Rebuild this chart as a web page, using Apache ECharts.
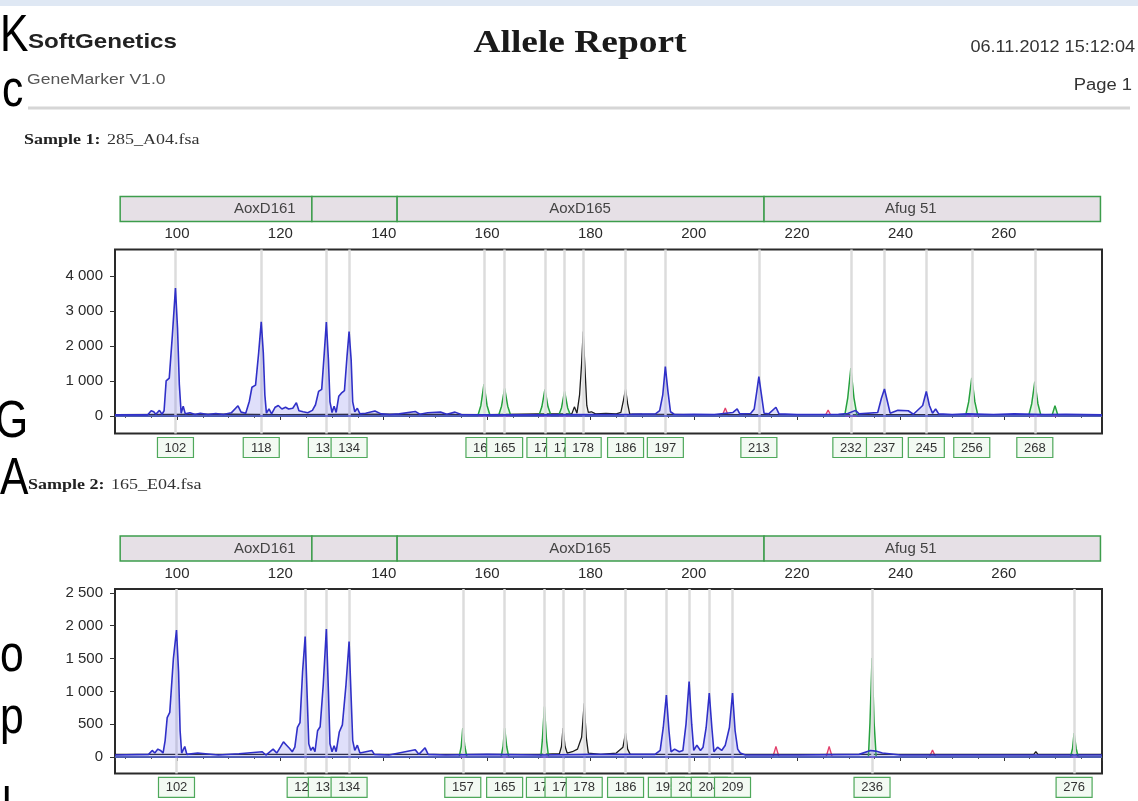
<!DOCTYPE html>
<html><head><meta charset="utf-8">
<script src="https://cdn.jsdelivr.net/npm/echarts@6/dist/echarts.min.js"></script>
<style>html,body{margin:0;padding:0;background:#fff}#c{width:1138px;height:801px}</style>
</head><body><div id="c"></div>
<script>
// ---------- DATA ----------
const xTickLabels = [100, 120, 140, 160, 180, 200, 220, 240, 260];
const s1YTicks = [0, 1000, 2000, 3000, 4000];
const s2YTicks = [0, 500, 1000, 1500, 2000, 2500];
const markerStart = [89.0, 126.1, 142.6, 213.6];
const markerEnd = [126.1, 142.6, 213.6, 278.7];
const markerNames = ['AoxD161', '', 'AoxD165', 'Afug 51'];
const markerLabelAt = [117.0, 134.0, 178.0, 242.0];

// Sample 1
const s1AllelePos = [99.7, 116.3, 128.9, 133.3, 159.4, 163.4, 171.2, 175.0, 178.6, 186.8, 194.5, 212.6, 230.4, 236.9, 245.0, 253.8, 266.0];
const s1AlleleNames = ['102', '118', '131', '134', '161', '165', '171', '174', '178', '186', '197', '213', '232', '237', '245', '256', '268'];
const s1Blue = [[88,30],[94.3,30],[95.0,150],[95.5,120],[95.9,50],[96.6,160],[97.1,50],[97.5,150],[97.9,1000],[98.5,1080],[99.1,2300],[99.7,3650],[100.1,2500],[100.45,900],[100.8,80],[101.2,280],[101.6,60],[102.5,90],[103.5,40],[104.5,80],[106.0,40],[107.5,70],[109.0,40],[110.5,90],[111.8,290],[112.4,110],[113.3,80],[114.0,420],[114.5,820],[115.2,880],[115.8,1800],[116.3,2690],[116.7,1800],[117.0,600],[117.3,80],[117.8,200],[118.3,60],[119.0,250],[119.6,300],[120.3,200],[121.0,250],[121.6,200],[122.4,220],[123.1,380],[123.6,150],[124.4,120],[125.3,90],[126.2,160],[126.8,320],[127.4,700],[128.0,760],[128.5,1800],[128.9,2680],[129.3,1600],[129.6,400],[130.0,100],[130.4,280],[130.8,100],[131.3,560],[131.8,650],[132.4,720],[132.9,1700],[133.3,2410],[133.7,1600],[134.0,400],[134.4,120],[134.9,220],[135.4,60],[136.5,80],[138.3,140],[139.5,60],[141.2,40],[143.0,60],[146.1,130],[147.0,50],[148.5,90],[151.0,110],[152.2,50],[153.8,110],[155.0,40],[160,30],[170,30],[180,40],[188,50],[192.6,60],[193.4,150],[194.0,600],[194.5,1410],[195.0,700],[195.5,120],[196.2,50],[198,40],[200,50],[204,40],[207.6,100],[208.4,200],[208.9,60],[211.0,70],[211.7,200],[212.2,700],[212.6,1125],[213.1,600],[213.6,80],[214.5,60],[215.9,250],[216.5,60],[220,40],[228,50],[229.8,70],[231.3,160],[232.0,60],[235.6,100],[236.3,500],[236.9,770],[237.5,400],[238.0,80],[239.5,160],[241.5,150],[242.5,50],[244.3,300],[245.0,700],[245.6,300],[246.2,80],[246.8,200],[247.4,60],[250,40],[253,60],[258,40],[262,60],[268,40],[272,50],[279,30]];
const s1Green = [[88,0],[158.2,0],[158.8,300],[159.4,910],[160.0,300],[160.6,0],[162.2,0],[162.8,280],[163.4,790],[164.0,280],[164.6,0],[170.0,0],[170.6,260],[171.2,760],[171.8,260],[172.4,0],[173.8,0],[174.4,230],[175.0,700],[175.6,230],[176.2,0],[229.2,0],[229.8,520],[230.4,1370],[231.0,520],[231.6,0],[252.6,0],[253.2,400],[253.8,1085],[254.4,400],[255.0,0],[264.8,0],[265.4,350],[266.0,980],[266.6,350],[267.2,0],[269.3,0],[269.9,295],[270.5,0],[279,0]];
const s1Black = [[88,40],[110,50],[120,40],[140,50],[160,40],[170,60],[176.4,60],[176.9,260],[177.4,80],[177.9,600],[178.3,1500],[178.6,2410],[179.0,1200],[179.3,300],[179.6,100],[180.2,120],[181,60],[183,70],[185,60],[185.9,100],[186.4,450],[186.8,760],[187.2,350],[187.6,60],[190,50],[200,40],[220,40],[240,40],[279,40]];
const s1Red = [[88,0],[205.5,0],[206.1,230],[206.7,0],[225.4,0],[226.0,170],[226.6,0],[279,0]];

// Sample 2
const s2AllelePos = [99.9, 124.8, 128.9, 133.3, 155.3, 163.4, 171.1, 174.7, 178.8, 186.8, 194.7, 199.1, 203.0, 207.5, 234.5, 273.6];
const s2AlleleNames = ['102', '126', '131', '134', '157', '165', '171', '174', '178', '186', '195', '200', '204', '209', '236', '276'];
const s2Blue = [[88,30],[94.5,40],[95.2,100],[95.7,60],[96.3,120],[96.8,100],[97.3,60],[97.7,250],[98.1,600],[98.6,680],[99.3,1500],[99.9,1935],[100.3,1300],[100.6,400],[100.9,60],[101.5,160],[101.9,40],[104,60],[108,30],[112,50],[116.5,80],[117.2,30],[118.6,120],[119.3,60],[120.0,150],[120.6,230],[121.2,180],[121.8,130],[122.3,80],[122.8,150],[123.3,450],[123.8,525],[124.3,1300],[124.8,1835],[125.2,900],[125.5,200],[125.9,100],[126.3,150],[126.7,80],[127.2,400],[127.7,460],[128.3,1100],[128.9,1950],[129.3,1000],[129.6,200],[130.0,80],[130.4,170],[130.8,80],[131.4,380],[132.0,490],[132.7,1100],[133.3,1760],[133.7,900],[134.0,250],[134.4,100],[134.9,180],[135.4,60],[137.7,100],[138.2,40],[141,30],[146.1,110],[146.8,40],[148.0,140],[148.6,40],[152,30],[160,40],[170,30],[180,40],[188,40],[192.5,40],[193.5,100],[194.1,450],[194.7,945],[195.2,400],[195.6,80],[196.3,120],[197.2,80],[197.9,100],[198.5,500],[199.1,1150],[199.6,500],[200.0,100],[200.6,180],[201.3,100],[201.8,150],[202.4,450],[203.0,975],[203.5,450],[203.9,80],[204.6,150],[205.4,100],[206.1,180],[206.9,450],[207.5,975],[208.0,400],[208.5,120],[209.0,60],[210,30],[220,30],[232,40],[234.2,100],[235.2,90],[236.5,60],[240,30],[250,30],[260,30],[279,30]];
const s2Green = [[88,0],[154.6,0],[155.0,160],[155.3,440],[155.7,160],[156.1,0],[162.7,0],[163.1,160],[163.4,440],[163.8,160],[164.2,0],[170.4,0],[170.7,260],[171.1,770],[171.5,260],[171.9,0],[233.8,0],[234.1,520],[234.5,1510],[234.9,520],[235.3,0],[272.9,0],[273.3,130],[273.6,365],[274.0,130],[274.4,0],[279,0]];
const s2Black = [[88,40],[120,40],[150,40],[170,40],[174.0,50],[174.4,160],[174.7,440],[175.1,160],[175.5,60],[176.5,80],[177.5,120],[178.3,300],[178.8,820],[179.2,300],[179.6,60],[182,40],[185,60],[186.3,150],[186.8,365],[187.2,120],[187.7,40],[200,40],[240,40],[265.8,40],[266.2,80],[266.6,40],[279,40]];
const s2Red = [[88,0],[215.3,0],[215.9,160],[216.5,0],[225.6,0],[226.2,160],[226.8,0],[245.6,0],[246.2,107],[246.8,0],[279,0]];

// ---------- CHART ----------
const FONT = '"Liberation Sans", Arial, sans-serif';
const chart = echarts.init(document.getElementById('c'), null, { renderer: 'canvas' });

const samples = [
  { top: 249.5, height: 184, min: -500, max: 4750, ticks: s1YTicks,
    pos: s1AllelePos, names: s1AlleleNames, blue: s1Blue, green: s1Green, black: s1Black, red: s1Red },
  { top: 589, height: 184.4, min: -250, max: 2560, ticks: s2YTicks,
    pos: s2AllelePos, names: s2AlleleNames, blue: s2Blue, green: s2Green, black: s2Black, red: s2Red }
];

function fmtThousands(v) { return String(v).replace(/\B(?=(\d{3})+(?!\d))/g, ' '); }

const grids = [], xAxes = [], yAxes = [], series = [];
samples.forEach((s, i) => {
  grids.push({ left: 115, right: 36, top: s.top, height: s.height, show: true,
    borderColor: '#2a2a2a', borderWidth: 2, backgroundColor: '#fff' });
  xAxes.push({ type: 'value', gridIndex: i, position: 'top', min: 88, max: 279,
    minInterval: 20, maxInterval: 20,
    axisLine: { show: false },
    axisTick: { show: true, inside: true, length: 4, lineStyle: { color: '#333' } },
    minorTick: { show: true, splitNumber: 4, length: 2, lineStyle: { color: '#555' } },
    splitLine: { show: false },
    axisLabel: { margin: 8, fontFamily: FONT, fontSize: 15, color: '#2a2a2a',
      formatter: v => (xTickLabels.indexOf(v) >= 0 ? String(v) : '') } });
  yAxes.push({ type: 'value', gridIndex: i, min: s.min, max: s.max,
    axisLine: { show: false }, splitLine: { show: false },
    axisTick: { show: true, length: 5, customValues: s.ticks, lineStyle: { color: '#333' } },
    axisLabel: { margin: 12, fontFamily: FONT, fontSize: 15, color: '#2a2a2a', customValues: s.ticks,
      formatter: v => fmtThousands(v) } });

  const common = { type: 'line', xAxisIndex: i, yAxisIndex: i, showSymbol: false, symbol: 'none',
    animation: false, silent: true };
  series.push(Object.assign({}, common, { name: 'red' + i, data: s.red, z: 1,
    lineStyle: { color: '#e2406c', width: 1.3 }, areaStyle: { color: 'rgba(240,120,150,0.25)' },
    markLine: { silent: true, symbol: ['none', 'none'], animation: false, label: { show: false },
      lineStyle: { type: 'solid', color: '#dcdcdc', width: 2.5 },
      data: s.pos.map(p => ({ xAxis: p })).concat([{ yAxis: 0, lineStyle: { color: '#4a4ad2', width: 1.5, type: 'solid' } }]) } }));
  series.push(Object.assign({}, common, { name: 'black' + i, data: s.black, z: 3,
    lineStyle: { color: '#1c1c1c', width: 1.3 }, areaStyle: { color: 'rgba(120,120,120,0.15)' } }));
  series.push(Object.assign({}, common, { name: 'green' + i, data: s.green, z: 4,
    lineStyle: { color: '#26a03e', width: 1.5 }, areaStyle: { color: 'rgba(120,215,130,0.3)' } }));
  series.push(Object.assign({}, common, { name: 'blue' + i, data: s.blue, z: 5,
    lineStyle: { color: '#3030c8', width: 1.6 }, areaStyle: { color: 'rgba(115,115,235,0.33)' } }));
  // allele label boxes, drawn in order so later boxes cover earlier ones
  series.push({ type: 'custom', xAxisIndex: i, yAxisIndex: i, z: 6, silent: true, animation: false,
    data: s.pos.map(p => [p, s.min]), encode: { x: 0, y: 1 },
    renderItem: function (params, api) {
      const k = params.dataIndex;
      const pt = api.coord([api.value(0), api.value(1)]);
      const bottom = params.coordSys.y + params.coordSys.height;
      return { type: 'group', children: [
        { type: 'rect', z2: 2 * k, shape: { x: pt[0] - 18, y: bottom + 4, width: 36, height: 20 },
          style: { fill: '#f3faf3', stroke: '#4ea85a', lineWidth: 1.2 } },
        { type: 'text', z2: 2 * k + 1, style: { text: s.names[k], x: pt[0], y: bottom + 14.5,
          align: 'center', verticalAlign: 'middle', textAlign: 'center', textVerticalAlign: 'middle',
          font: '13px ' + FONT, fill: '#333' } }
      ] };
    } });
  // marker bars above the axis
  series.push({ type: 'custom', xAxisIndex: i, yAxisIndex: i, z: 6, silent: true, animation: false,
    data: markerStart.map((m, k) => [m, markerEnd[k]]), encode: { x: [0, 1] },
    renderItem: function (params, api) {
      const k = params.dataIndex;
      const x0 = api.coord([markerStart[k], 0])[0];
      const x1 = api.coord([markerEnd[k], 0])[0];
      const xl = api.coord([markerLabelAt[k], 0])[0];
      const top = params.coordSys.y;
      return { type: 'group', children: [
        { type: 'rect', shape: { x: x0, y: top - 53, width: x1 - x0, height: 25 },
          style: { fill: '#e6e0e6', stroke: '#3d9d4c', lineWidth: 1.5 } },
        { type: 'text', style: { text: markerNames[k], x: xl, y: top - 40.5, align: 'center',
          verticalAlign: 'middle', textAlign: 'center', textVerticalAlign: 'middle',
          font: '15px ' + FONT, fill: '#444' } }
      ] };
    } });
});

function txt(x, y, text, font, fill, align, sx) {
  return { type: 'text', x: x, y: y, scaleX: sx || 1, z: 100, silent: true,
    style: { text: text, x: 0, y: 0, font: font, fill: fill, align: align || 'left', textAlign: align || 'left',
      verticalAlign: 'middle', textVerticalAlign: 'middle' } };
}
const BIG = '52px ' + FONT;
const SERIF = '"Liberation Serif", "Times New Roman", serif';
const graphic = [
  { type: 'rect', shape: { x: 0, y: 0, width: 1138, height: 6 }, style: { fill: '#dfe8f4' }, z: 90, silent: true },
  txt(28, 42, 'SoftGenetics', 'bold 21px ' + FONT, '#222', 'left', 1.15),
  txt(27, 80, 'GeneMarker V1.0', '15px ' + FONT, '#555', 'left', 1.17),
  txt(580, 44, 'Allele Report', 'bold 32px ' + SERIF, '#1a1a1a', 'center', 1.17),
  txt(1135, 48, '06.11.2012 15:12:04', '16px ' + FONT, '#333', 'right', 1.13),
  txt(1132, 86, 'Page 1', '16px ' + FONT, '#333', 'right', 1.15),
  { type: 'line', shape: { x1: 28, y1: 108, x2: 1130, y2: 108 }, style: { stroke: '#d6d6d6', lineWidth: 3 }, z: 90, silent: true },
  txt(24, 140, 'Sample 1:', 'bold 15px ' + SERIF, '#222', 'left', 1.2),
  txt(107, 140, '285_A04.fsa', '15px ' + SERIF, '#333', 'left', 1.2),
  txt(28, 485, 'Sample 2:', 'bold 15px ' + SERIF, '#222', 'left', 1.2),
  txt(111, 485, '165_E04.fsa', '15px ' + SERIF, '#333', 'left', 1.2),
  txt(0, 37, 'K', BIG, '#000', 'left', 0.82),
  txt(2, 92, 'c', BIG, '#000', 'left', 0.82),
  txt(-5, 423, 'G', BIG, '#000', 'left', 0.82),
  txt(0, 480, 'A', BIG, '#000', 'left', 0.82),
  txt(0, 657, 'o', BIG, '#000', 'left', 0.82),
  txt(0, 719, 'p', BIG, '#000', 'left', 0.82),
  txt(2, 810, 'l', BIG, '#000', 'left', 0.82)
];

chart.setOption({ animation: false, backgroundColor: '#ffffff', grid: grids, xAxis: xAxes, yAxis: yAxes,
  series: series, graphic: graphic });
</script></body></html>
